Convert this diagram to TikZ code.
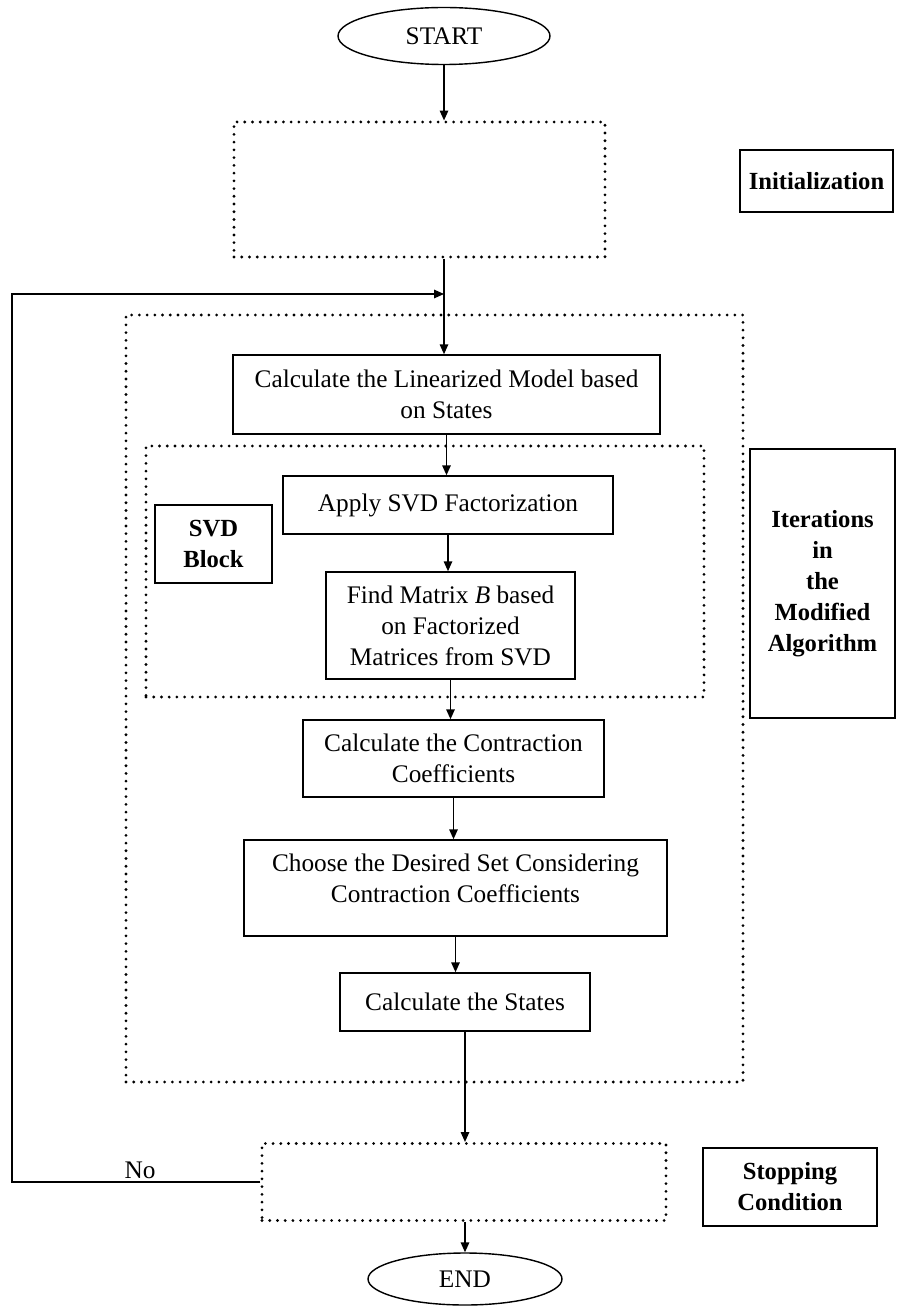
\documentclass[tikz,border=0pt]{standalone}
\usepackage{fontspec}
\setmainfont{Liberation Serif}
\usetikzlibrary{arrows.meta,shapes.geometric}
\newcommand{\pix}{0.025cm}% one pixel of the original figure
\begin{document}
\begin{tikzpicture}[x=\pix, y=-\pix, line width=1pt, >={Triangle[length=7pt,width=6pt]},
  font=\fontsize{18}{22}\selectfont,
  proc node/.style={rectangle,draw,align=center,inner sep=0pt,line width=1.1pt},
  dot node/.style={rectangle,draw,inner sep=0pt,line width=2.2pt,line cap=round,dash pattern=on 0pt off 5.5pt},
  term node/.style={ellipse,draw,inner sep=0pt,line width=1pt},
  side node/.style={rectangle,draw,align=center,inner sep=0pt,line width=1.3pt,font=\fontsize{17.5}{22}\selectfont\bfseries}]
\useasboundingbox (0,0) rectangle (896,1306);
\begin{scope}
\node[term node,minimum width=212*\pix,minimum height=57*\pix] (start) at (444,36) {START};
\node[dot node,minimum width=371*\pix,minimum height=135*\pix] (init) at (419.5,189.5) {};
\node[side node,minimum width=153*\pix,minimum height=62*\pix] (initlbl) at (816.5,181) {Initialization};
\node[dot node,minimum width=617*\pix,minimum height=767*\pix] (iter) at (434.5,698.5) {};
\node[proc node,minimum width=427*\pix,minimum height=79*\pix] (lin) at (446.5,394.5) {Calculate the Linearized Model based\\on States};
\node[dot node,minimum width=558*\pix,minimum height=251*\pix] (svd) at (425,571.5) {};
\node[proc node,minimum width=330*\pix,minimum height=58*\pix] (apply) at (448,505) {Apply SVD Factorization};
\node[side node,minimum width=117*\pix,minimum height=78*\pix] (svdlbl) at (213.5,544) {SVD\\Block};
\node[proc node,minimum width=249*\pix,minimum height=107*\pix] (findb) at (450.5,625.5) {Find Matrix \textit{B} based\\on Factorized\\Matrices from SVD};
\node[proc node,minimum width=301*\pix,minimum height=77*\pix] (contr) at (453.5,758.5) {Calculate the Contraction\\Coefficients};
\node[proc node,minimum width=423*\pix,minimum height=96*\pix] (choose) at (455.5,888) {Choose the Desired Set Considering\\Contraction Coefficients\\[-8pt]\mbox{}};
\node[proc node,minimum width=250*\pix,minimum height=58*\pix] (states) at (465,1002) {Calculate the States};
\node[side node,minimum width=145*\pix,minimum height=269*\pix] (iterlbl) at (822.5,583.5) {Iterations\\in\\the\\Modified\\Algorithm};
\node[dot node,minimum width=404*\pix,minimum height=77*\pix] (stop) at (464,1182) {};
\node[side node,minimum width=174*\pix,minimum height=78*\pix] (stoplbl) at (790,1187) {Stopping\\Condition};
\node[term node,minimum width=194*\pix,minimum height=52*\pix] (end) at (465,1279) {END};
\node (no) at (140,1170) {No};
\coordinate (fbt) at (12,294);
\coordinate (merge) at (444,294);
\end{scope}
\begin{scope}
\draw[->] (start) -- (start |- init.north);
\draw[->] (init.south -| start) -- (start |- lin.north);
\draw[->] (stop.west) -| (fbt) -- (merge);
\draw[->] (lin.south) -- (lin.south |- apply.north);
\draw[->] (apply.south) -- (apply.south |- findb.north);
\draw[->] (findb.south) -- (findb.south |- contr.north);
\draw[->] (contr.south) -- (contr.south |- choose.north);
\draw[->] (choose.south) -- (choose.south |- states.north);
\draw[->] (states.south) -- (states.south |- stop.north);
\draw[->] (stop.south -| end) -- (end.north);
\end{scope}
\end{tikzpicture}
\end{document}
